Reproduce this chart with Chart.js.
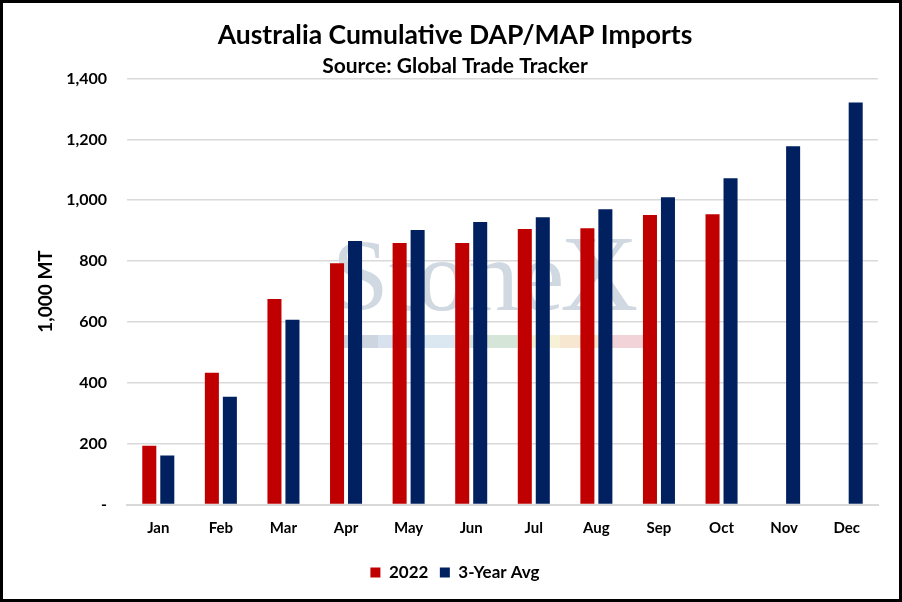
<!DOCTYPE html>
<html>
<head>
<meta charset="utf-8">
<script src="https://cdn.jsdelivr.net/npm/chart.js@4"></script>
<style>
    html, body { margin: 0; padding: 0; background: #fff; }
    .frame { width: 902px; height: 602px; box-sizing: border-box; border: 3px solid #000; position: relative; }
    canvas { display: block; }
</style>
</head>
<body>
<div class="frame"><canvas id="chart" width="896" height="596"></canvas></div>
<script>
/* ── Data ── */
const MONTHS    = ['Jan', 'Feb', 'Mar', 'Apr', 'May', 'Jun', 'Jul', 'Aug', 'Sep', 'Oct', 'Nov', 'Dec'];
const CUR_2022  = [193, 433, 675, 793, 859, 859, 905, 908, 951, 954, null, null];
const AVG_3YR   = [161, 354, 607, 866, 902, 928, 944, 970, 1010, 1072, 1177, 1321];
const Y_TICKS   = [0, 200, 400, 600, 800, 1000, 1200, 1400];

const FONT = 'Lato, Carlito, Calibri, sans-serif';

// faint "StoneX" watermark behind the bars
const watermark = {
    id: 'watermark',
    beforeDraw(chart) {
        const ctx = chart.ctx;
        ctx.save();
        ctx.fillStyle = '#d0d8e1';
        ctx.font = '102px "Liberation Serif", serif';
        ctx.textBaseline = 'alphabetic';
        ctx.fillText('Stone', 329, 307);
        const w = ctx.measureText('Stone').width;
        ctx.font = '108px "Liberation Serif", serif';
        ctx.fillText('X', 329 + w - 4, 307);
        const strip = [
            [340, '#ccd5e0'], [375, '#d8e2ee'], [422, '#dbe8f2'], [467, '#d5e5d8'],
            [514, '#f5f2d8'], [557, '#f7e6d0'], [597, '#f2d4d8'], [642, null],
        ];
        for (let i = 0; i < strip.length - 1; i++) {
            ctx.fillStyle = strip[i][1];
            ctx.fillRect(strip[i][0], 332, strip[i + 1][0] - strip[i][0], 13);
        }
        ctx.restore();
    },
};

new Chart(document.getElementById('chart').getContext('2d'), {
    type: 'bar',
    data: {
        labels: MONTHS,
        datasets: [
            {
                label:              '2022',
                data:               CUR_2022,
                backgroundColor:    '#c00000',
                barPercentage:      0.78,
                categoryPercentage: 0.575,
            },
            {
                label:              '3-Year Avg',
                data:               AVG_3YR,
                backgroundColor:    '#002060',
                barPercentage:      0.78,
                categoryPercentage: 0.575,
            },
        ],
    },
    options: {
        responsive: false,
        animation:  false,
        layout: { padding: { left: 14, right: 6, top: 0, bottom: 8 } },
        scales: {
            x: {
                grid:   { display: false, drawTicks: false },
                border: { color: '#d9d9d9', width: 2 },
                ticks:  { color: '#000', padding: 15, font: { family: FONT, size: 15, weight: 'bold' } },
            },
            y: {
                min: 0,
                max: 1400,
                afterBuildTicks: s => { s.ticks = Y_TICKS.map(v => ({ value: v })); },
                afterFit: s => { s.width = 110; },
                grid:   { color: '#d9d9d9', lineWidth: 1.5, drawTicks: false },
                border: { display: false },
                ticks: {
                    color:   '#000',
                    padding: 20,
                    font:    { family: FONT, size: 16, weight: 'bold' },
                    callback: v => v === 0 ? '-' : v.toLocaleString('en-US'),
                },
                title: {
                    display: true,
                    text:    '1,000 MT',
                    color:   '#000',
                    padding: { top: 17, bottom: 0 },
                    font:    { family: FONT, size: 19, weight: 'bold' },
                },
            },
            // empty spacer on the right so the legend sits where the original has it
            yRight: {
                position: 'right',
                display:  true,
                grid:     { display: false, drawTicks: false },
                border:   { display: false },
                ticks:    { display: false },
                afterFit: s => { s.width = 15; },
            },
        },
        plugins: {
            title: {
                display: true,
                text:    'Australia Cumulative DAP/MAP Imports',
                color:   '#000',
                padding: { top: 19, bottom: 7 },
                font:    { family: FONT, size: 26.5, weight: 'bold', lineHeight: 1.0 },
            },
            subtitle: {
                display: true,
                text:    'Source: Global Trade Tracker',
                color:   '#000',
                padding: { top: 0, bottom: 2 },
                font:    { family: FONT, size: 21, weight: 'bold', lineHeight: 1.0 },
            },
            legend: {
                position: 'bottom',
                labels: {
                    color:     '#000',
                    boxWidth:  10,
                    boxHeight: 10,
                    padding:   11.5,
                    font:      { family: FONT, size: 17, weight: 'bold' },
                },
            },
            tooltip: { enabled: false },
        },
    },
    plugins: [watermark],
});
</script>
</body>
</html>
